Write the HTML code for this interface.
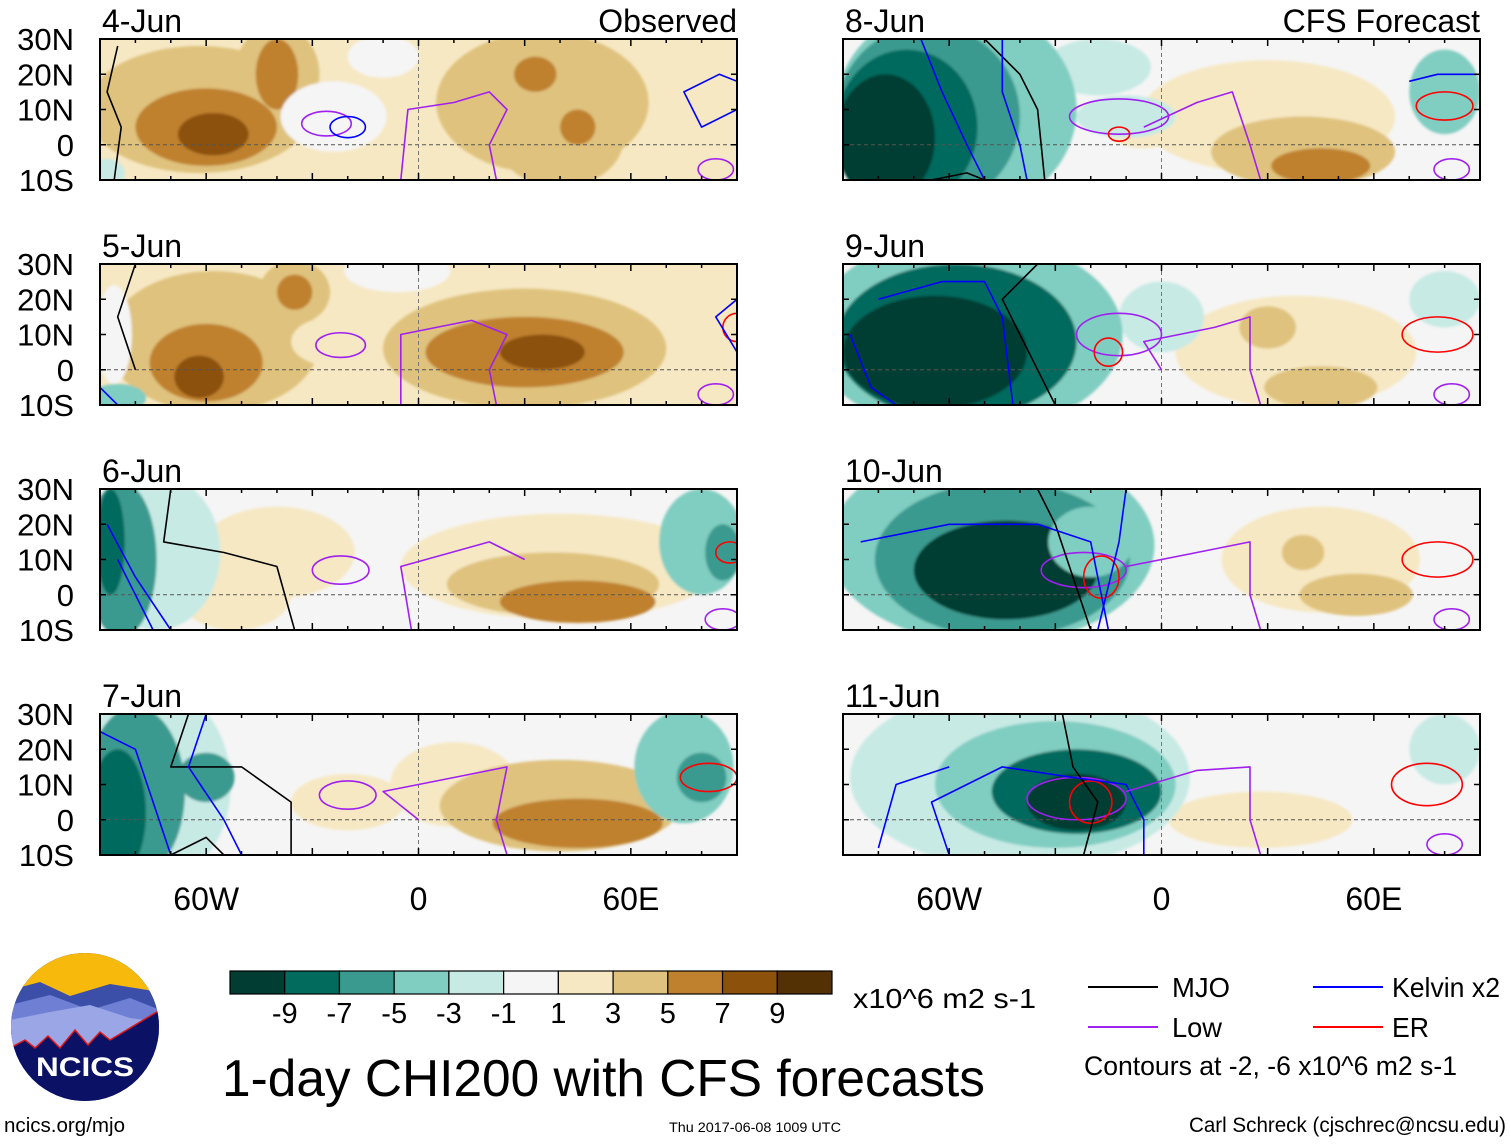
<!DOCTYPE html>
<html><head><meta charset="utf-8"><style>
html,body{margin:0;padding:0;background:#fff}
svg text{font-family:"Liberation Sans Narrow","Liberation Sans",sans-serif;fill:#000}
</style></head><body>
<svg id="chart" width="1510" height="1142" viewBox="0 0 1510 1142" xmlns="http://www.w3.org/2000/svg">
<g id="panels"></g>
<g id="axes"></g>

<g>
  <clipPath id="logoClip"><ellipse cx="85" cy="1027" rx="74" ry="74"/></clipPath>
  <g clip-path="url(#logoClip)">
    <rect x="10" y="952" width="150" height="150" fill="#0b1266"/>
    <rect x="10" y="952" width="150" height="60" fill="#f7b90c"/>
    <path d="M10 990 L40 982 L70 996 L110 984 L160 992 L160 1040 L10 1040Z" fill="#3c4fa8"/>
    <path d="M10 1005 L50 995 L90 1010 L130 998 L160 1010 L160 1050 L10 1050Z" fill="#6f7fd4"/>
    <path d="M10 1020 L50 1012 L90 1005 L130 1018 L160 1022 L160 1060 L10 1060Z" fill="#9aa6e6"/>
    <path d="M10 1048 L25 1040 L35 1048 L48 1036 L60 1048 L75 1030 L88 1045 L100 1032 L110 1040 L130 1028 L160 1010 L160 1102 L10 1102Z" fill="#0b1266" stroke="#e01818" stroke-width="1.5"/>
  </g>
  <text x="85" y="1076" font-size="27" font-weight="bold" text-anchor="middle" style="fill:#fff" textLength="98" lengthAdjust="spacingAndGlyphs">NCICS</text>
</g>

<g id="cbar"></g>
<text x="853" y="1008" font-size="28" textLength="183" lengthAdjust="spacingAndGlyphs">x10^6 m2 s-1</text>
<text x="222" y="1096" font-size="52" textLength="763" lengthAdjust="spacingAndGlyphs">1-day CHI200 with CFS forecasts</text>

<g>
  <line x1="1088" y1="987" x2="1158" y2="987" stroke="#000" stroke-width="2"/>
  <text x="1172" y="997" font-size="28" textLength="58" lengthAdjust="spacingAndGlyphs">MJO</text>
  <line x1="1313" y1="987" x2="1383" y2="987" stroke="#0000ff" stroke-width="2"/>
  <text x="1392" y="997" font-size="28" textLength="108" lengthAdjust="spacingAndGlyphs">Kelvin x2</text>
  <line x1="1088" y1="1027" x2="1158" y2="1027" stroke="#a020f0" stroke-width="2"/>
  <text x="1172" y="1037" font-size="28" textLength="50" lengthAdjust="spacingAndGlyphs">Low</text>
  <line x1="1313" y1="1027" x2="1383" y2="1027" stroke="#ff0000" stroke-width="2"/>
  <text x="1392" y="1037" font-size="28" textLength="37" lengthAdjust="spacingAndGlyphs">ER</text>
  <text x="1084" y="1075" font-size="27" textLength="373" lengthAdjust="spacingAndGlyphs">Contours at -2, -6 x10^6 m2 s-1</text>
</g>
<text x="4" y="1132" font-size="20" textLength="121" lengthAdjust="spacingAndGlyphs">ncics.org/mjo</text>
<text x="669" y="1132" font-size="14" textLength="172" lengthAdjust="spacingAndGlyphs">Thu 2017-06-08 1009 UTC</text>
<text x="1189" y="1132" font-size="21" textLength="317" lengthAdjust="spacingAndGlyphs">Carl Schreck (cjschrec@ncsu.edu)</text>
</svg>
<script>
const NS='http://www.w3.org/2000/svg';
const levelColors=['#023d33','#036b5e','#3a9a8f','#80cdc1','#c7eae5','#f5f5f5','#f6e8c3','#dfc27d','#bf812d','#8c510a','#543005'];
const levelLabels=['-9','-7','-5','-3','-1','1','3','5','7','9'];
const panelTitles=['4-Jun','5-Jun','6-Jun','7-Jun','8-Jun','9-Jun','10-Jun','11-Jun'];
const latTicks=[30,20,10,0,-10];
const latTickLabels=['30N','20N','10N','0','10S'];
const lonTicks=[-60,0,60];
const lonTickLabels=['60W','0','60E'];
const panelBg=[6,6,5,5,5,5,5,5];
// blobs: [lon, lat, lonRadius, latRadius, levelIndex]
const blobs0=[[-62,10,32,18,7],[-40,20,12,14,7],[-60,5,20,11,8],[-58,3,10,6,9],[-40,20,6,10,8],[-24,8,15,10,5],[35,12,30,20,7],[40,2,18,14,7],[33,20,6,5,8],[45,5,5,5,8],[78,10,10,18,6],[-88,-8,5,4,4],[-10,25,10,6,5]];
const blobs1=[[-58,8,30,20,7],[-35,22,10,9,7],[-35,22,5,5,8],[-60,2,16,11,8],[-62,-2,7,6,9],[30,6,40,17,7],[30,5,28,10,8],[35,5,12,5,9],[-24,8,12,7,6],[-86,10,5,14,5],[-85,-8,8,4,3],[-6,28,15,6,5],[75,20,10,8,6]];
const blobs2=[[-40,12,22,13,6],[-52,0,16,10,6],[40,8,45,15,6],[38,3,30,9,7],[45,-2,22,6,8],[-74,12,18,22,4],[-84,10,10,22,2],[-87,15,4,15,1],[80,15,12,15,3],[86,12,5,8,2]];
const blobs3=[[-20,5,16,8,6],[10,10,18,12,6],[40,4,34,13,7],[45,-1,24,7,8],[-75,10,22,28,4],[-80,8,14,24,2],[-85,2,8,18,1],[-60,12,8,7,2],[75,15,14,16,3],[80,12,7,7,2]];
const blobs4=[[30,8,36,16,6],[40,-2,26,10,7],[45,-6,14,5,8],[-5,4,10,5,6],[-18,22,15,8,4],[-10,8,14,6,4],[80,15,10,12,3],[-58,10,34,30,3],[-66,8,26,26,2],[-72,5,20,22,1],[-78,2,14,18,0]];
const blobs5=[[38,5,34,16,6],[45,-5,16,6,7],[30,12,8,6,7],[0,15,12,10,4],[80,20,10,8,4],[-55,10,44,28,3],[-58,8,34,22,1],[-64,5,26,16,0]];
const blobs6=[[45,10,28,15,6],[55,0,16,6,7],[40,12,6,5,7],[-48,14,46,28,3],[-45,10,36,22,2],[-44,7,26,14,0],[-20,15,12,10,3]];
const blobs7=[[28,0,26,8,6],[-40,12,48,26,4],[-30,10,34,18,3],[-24,8,24,12,1],[-24,5,14,8,0],[80,20,10,10,4]];
const allBlobs=[blobs0,blobs1,blobs2,blobs3,blobs4,blobs5,blobs6,blobs7];
// contour loops: [lon, lat, lonRadius, latRadius, type]
const loops0=[[-26,6,7,3.5,'low'],[-20,5,5,3,'kelvin'],[84,-7,5,3,'low']];
const loops1=[[-22,7,7,3.5,'low'],[84,-7,5,3,'low'],[90,12,4,4,'er']];
const loops2=[[-22,7,8,4,'low'],[86,-7,5,3,'low'],[88,12,4,3,'er']];
const loops3=[[-20,7,8,4,'low'],[82,12,8,4,'er']];
const loops4=[[-12,8,14,5,'low'],[-12,3,3,2,'er'],[80,11,8,4,'er'],[82,-7,5,3,'low']];
const loops5=[[-12,10,12,6,'low'],[-15,5,4,4,'er'],[78,10,10,5,'er'],[82,-7,5,3,'low']];
const loops6=[[-22,7,12,5,'low'],[-17,5,5,6,'er'],[78,10,10,5,'er'],[82,-7,5,3,'low']];
const loops7=[[-24,6,14,6,'low'],[-20,5,6,6,'er'],[75,10,10,6,'er'],[80,-7,5,3,'low']];
const allLoops=[loops0,loops1,loops2,loops3,loops4,loops5,loops6,loops7];
// polylines: [type, [[lon,lat],...]]
const lines0=[['mjo',[[-85,28],[-88,15],[-84,5],[-86,-10]]],['low',[[-5,-10],[-3,10],[10,12],[20,15],[25,10],[20,0],[22,-10]]],['kelvin',[[90,10],[80,5],[75,15],[85,20],[90,18]]]];
const lines1=[['mjo',[[-80,30],[-85,15],[-80,0]]],['low',[[-5,-10],[-5,10],[15,14],[25,10],[20,0],[22,-10]]],['kelvin',[[-90,-5],[-85,-10]]],['kelvin',[[90,20],[84,15],[90,5]]]];
const lines2=[['mjo',[[-70,30],[-72,15],[-55,12],[-40,8],[-35,-10]]],['low',[[-2,-10],[-5,8],[20,15],[30,10]]],['kelvin',[[-88,20],[-80,5],[-70,-10]]],['kelvin',[[-85,10],[-75,-10]]]];
const lines3=[['mjo',[[-65,30],[-70,15],[-50,15],[-36,5],[-36,-10]]],['mjo',[[-70,-10],[-60,-5],[-55,-10]]],['low',[[0,0],[-10,8],[10,12],[25,15],[22,0],[25,-10]]],['kelvin',[[-90,25],[-80,20],[-75,5],[-70,-10]]],['kelvin',[[-60,30],[-65,15],[-55,0],[-50,-10]]]];
const lines4=[['mjo',[[-50,30],[-40,20],[-35,10],[-33,-10]]],['mjo',[[-65,-10],[-55,-8],[-50,-10]]],['kelvin',[[-68,30],[-62,15],[-55,0],[-50,-10]]],['kelvin',[[-45,30],[-45,15],[-40,0],[-38,-10]]],['low',[[-5,5],[10,12],[20,15],[25,0],[28,-10]]],['kelvin',[[70,18],[78,20],[90,20]]]];
const lines5=[['mjo',[[-35,30],[-45,20],[-35,0],[-30,-10]]],['kelvin',[[-80,20],[-62,25],[-50,25],[-45,15],[-42,-10]]],['kelvin',[[-88,10],[-82,-5],[-75,-10]]],['low',[[0,0],[-5,8],[15,12],[25,15],[25,0],[28,-10]]]];
const lines6=[['mjo',[[-35,30],[-30,20],[-25,5],[-20,-10]]],['kelvin',[[-85,15],[-60,20],[-35,20],[-20,15],[-15,-10]]],['kelvin',[[-10,30],[-12,15],[-18,-10]]],['low',[[-10,8],[10,12],[25,15],[25,0],[28,-10]]]];
const lines7=[['mjo',[[-28,30],[-25,15],[-18,5],[-22,-10]]],['kelvin',[[-60,-10],[-65,5],[-45,15],[-25,12],[-10,10],[-5,0],[-5,-10]]],['kelvin',[[-80,-8],[-75,10],[-60,15]]],['low',[[-10,8],[10,14],[25,15],[25,0],[28,-10]]]];
const allLines=[lines0,lines1,lines2,lines3,lines4,lines5,lines6,lines7];

const lineColors={mjo:'#000000',kelvin:'#0000ff',low:'#a020f0',er:'#ff0000'};
const PW=637,PH=141,LON0=-90,LON1=90,LAT0=-10,LAT1=30;
const colX=[100,843],rowY=[39,264,489,714];
function xScale(lon,x0){return x0+(lon-LON0)/(LON1-LON0)*PW;}
function yScale(lat,y0){return y0+(LAT1-lat)/(LAT1-LAT0)*PH;}
const panelsG=document.getElementById('panels');
const axesG=document.getElementById('axes');
function mk(tag,attrs,parent){const e=document.createElementNS(NS,tag);for(const k in attrs)e.setAttribute(k,attrs[k]);parent.appendChild(e);return e;}
const defs=mk('defs',{},panelsG);
mk('filter',{id:'soft',x:'-20%',y:'-20%',width:'140%',height:'140%'},defs).appendChild((()=>{const f=document.createElementNS(NS,'feGaussianBlur');f.setAttribute('stdDeviation','1.2');return f;})());

for(let p=0;p<8;p++){
  const x0=colX[p<4?0:1],y0=rowY[p%4];
  const cp=mk('clipPath',{id:'clip'+p},defs);
  mk('rect',{x:x0,y:y0,width:PW,height:PH},cp);
  const g=mk('g',{},panelsG);
  
  
  const inner=mk('g',{'clip-path':'url(#clip'+p+')'},g);
  mk('rect',{x:x0,y:y0,width:PW,height:PH,fill:levelColors[panelBg[p]]},inner);
  const fg=mk('g',{filter:'url(#soft)'},inner);
  allBlobs[p].forEach((b,i)=>{
    const e=mk('ellipse',{cx:xScale(b[0],x0),cy:yScale(b[1],y0),rx:b[2]/(LON1-LON0)*PW,ry:b[3]/(LAT1-LAT0)*PH,fill:levelColors[b[4]]},fg);
    
    
  });
  mk('line',{x1:x0,y1:yScale(0,y0),x2:x0+PW,y2:yScale(0,y0),stroke:'#555','stroke-width':1,'stroke-dasharray':'4,3'},inner);
  mk('line',{x1:xScale(0,x0),y1:y0,x2:xScale(0,x0),y2:y0+PH,stroke:'#777','stroke-width':1,'stroke-dasharray':'4,3'},inner);
  allLoops[p].forEach(c=>{
    const e=mk('ellipse',{cx:xScale(c[0],x0),cy:yScale(c[1],y0),rx:c[2]/(LON1-LON0)*PW,ry:c[3]/(LAT1-LAT0)*PH,fill:'none',stroke:lineColors[c[4]],'stroke-width':1.6},inner);
    
    
  });
  allLines[p].forEach(l=>{
    const pts=l[1].map(q=>xScale(q[0],x0).toFixed(1)+','+yScale(q[1],y0).toFixed(1)).join(' ');
    const e=mk('polyline',{points:pts,fill:'none',stroke:lineColors[l[0]],'stroke-width':1.6,'stroke-linejoin':'round'},inner);
    
    
  });
  mk('rect',{x:x0,y:y0,width:PW,height:PH,fill:'none',stroke:'#000','stroke-width':2},g);
  for(let lon=-90;lon<=90;lon+=10){const x=xScale(lon,x0);const L=(lon%30===0)?7:4;
    mk('line',{x1:x,y1:y0,x2:x,y2:y0+L,stroke:'#000','stroke-width':1.5},g);
    mk('line',{x1:x,y1:y0+PH,x2:x,y2:y0+PH-L,stroke:'#000','stroke-width':1.5},g);}
  for(let lat=-10;lat<=30;lat+=10){const y=yScale(lat,y0);
    mk('line',{x1:x0,y1:y,x2:x0+6,y2:y,stroke:'#000','stroke-width':1.5},g);
    mk('line',{x1:x0+PW,y1:y,x2:x0+PW-6,y2:y,stroke:'#000','stroke-width':1.5},g);}
  const t=mk('text',{x:x0+2,y:y0-7,'font-size':32},g);t.textContent=panelTitles[p];
  
  if(p===0){const o=mk('text',{x:x0+PW,y:y0-7,'font-size':32,'text-anchor':'end'},g);o.textContent='Observed';
    }
  if(p===4){const o=mk('text',{x:x0+PW,y:y0-7,'font-size':32,'text-anchor':'end'},g);o.textContent='CFS Forecast';
    }
  if(p<4){latTicks.forEach((lat,i)=>{const e=mk('text',{x:74,y:yScale(lat,y0)+11,'font-size':31,'text-anchor':'end'},axesG);e.textContent=latTickLabels[i];
    });}
  if(p%4===3){lonTicks.forEach((lon,i)=>{const e=mk('text',{x:xScale(lon,x0),y:910,'font-size':32,'text-anchor':'middle'},axesG);e.textContent=lonTickLabels[i];
    });}
}
const cb=document.getElementById('cbar');
const cbX=230,cbY=971,cbW=602/11,cbH=23;
levelColors.forEach((c,i)=>{const r=mk('rect',{x:cbX+i*cbW,y:cbY,width:cbW,height:cbH,fill:c,stroke:'#000','stroke-width':1.2},cb);
  });
levelLabels.forEach((l,i)=>{const e=mk('text',{x:cbX+(i+1)*cbW,y:1023,'font-size':29,'text-anchor':'middle'},cb);e.textContent=l;
  });
</script>
</body></html>
